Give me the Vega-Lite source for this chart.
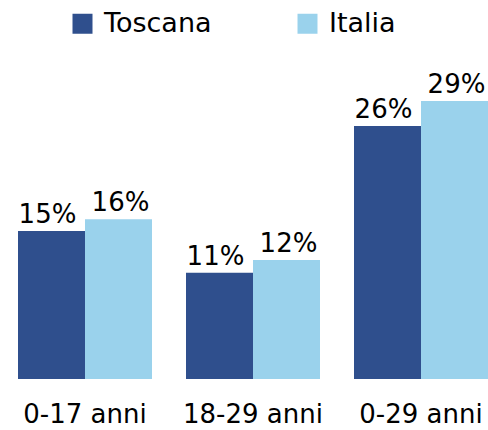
{
  "$schema": "https://vega.github.io/schema/vega-lite/v6.json",
  "width": 470,
  "height": 291,
  "autosize": {"type": "none"},
  "padding": {"left": 18, "top": 88, "right": 0, "bottom": 51},
  "background": "white",
  "config": {
    "view": {"stroke": null},
    "font": "DejaVu Sans"
  },
  "data": {
    "values": [
      {"group": "0-17 anni", "area": "Toscana", "value": 0.1526},
      {"group": "0-17 anni", "area": "Italia", "value": 0.1646},
      {"group": "18-29 anni", "area": "Toscana", "value": 0.1096},
      {"group": "18-29 anni", "area": "Italia", "value": 0.1227},
      {"group": "0-29 anni", "area": "Toscana", "value": 0.2608},
      {"group": "0-29 anni", "area": "Italia", "value": 0.2866}
    ]
  },
  "encoding": {
    "x": {
      "field": "group",
      "type": "nominal",
      "sort": ["0-17 anni", "18-29 anni", "0-29 anni"],
      "scale": {"paddingInner": 0.2024, "paddingOuter": 0},
      "axis": {
        "title": null,
        "labelAngle": 0,
        "domain": false,
        "ticks": false,
        "labelFontSize": 26,
        "labelColor": "#000000",
        "labelPadding": 22
      }
    },
    "xOffset": {
      "field": "area",
      "type": "nominal",
      "sort": ["Toscana", "Italia"],
      "scale": {"paddingInner": 0, "paddingOuter": 0}
    },
    "y": {
      "field": "value",
      "type": "quantitative",
      "scale": {"domain": [0, 0.3], "nice": false},
      "axis": null
    }
  },
  "layer": [
    {
      "mark": {"type": "bar"},
      "encoding": {
        "color": {
          "field": "area",
          "type": "nominal",
          "sort": ["Toscana", "Italia"],
          "scale": {"domain": ["Toscana", "Italia"], "range": ["#2F4F8D", "#9AD2EC"]},
          "legend": {
            "title": null,
            "orient": "none",
            "legendX": 51,
            "legendY": -78,
            "direction": "horizontal",
            "symbolType": "square",
            "symbolSize": 400,
            "symbolStrokeWidth": 0,
            "labelFontSize": 27,
            "labelColor": "#000000",
            "labelOffset": 8,
            "columnPadding": 82,
            "labelLimit": 300
          }
        }
      }
    },
    {
      "transform": [{"filter": "datum.area === 'Toscana'"}],
      "mark": {"type": "text", "baseline": "alphabetic", "dy": -8, "dx": -4, "fontSize": 26, "color": "#000000"},
      "encoding": {
        "text": {"field": "value", "type": "quantitative", "format": ".0%"}
      }
    },
    {
      "transform": [{"filter": "datum.area === 'Italia'"}],
      "mark": {"type": "text", "baseline": "alphabetic", "dy": -8, "dx": 2, "fontSize": 26, "color": "#000000"},
      "encoding": {
        "text": {"field": "value", "type": "quantitative", "format": ".0%"}
      }
    }
  ]
}
